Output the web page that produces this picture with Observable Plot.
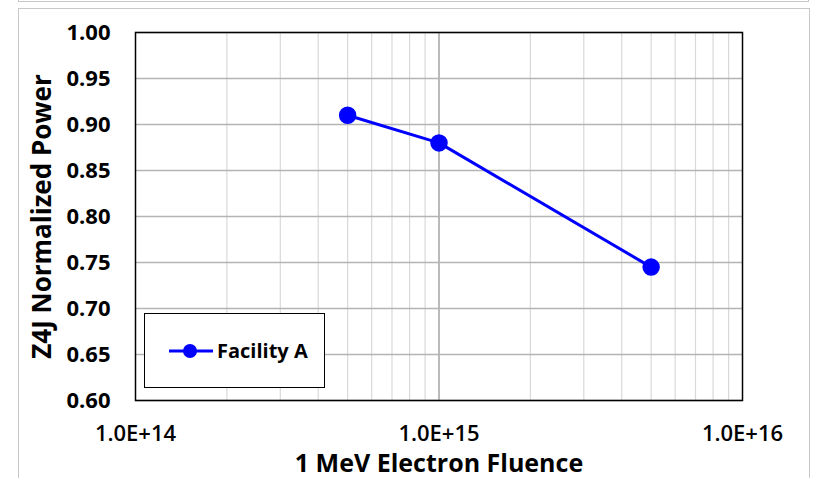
<!DOCTYPE html>
<html>
<head>
<meta charset="utf-8">
<script src="https://cdn.jsdelivr.net/npm/d3@7"></script>
<script src="https://cdn.jsdelivr.net/npm/@observablehq/plot@0.6"></script>
<style>
  html, body { margin: 0; padding: 0; background: #fff; overflow: hidden; }
  #wrap { position: relative; width: 815px; height: 478px; font-family: "Open Sans", sans-serif; }
  .border-top { position: absolute; left: 18px; top: -10px; width: 791px; height: 12px; border: 1px solid #c8c8c8; box-sizing: border-box; }
  .border-main { position: absolute; left: 18px; top: 8px; width: 792px; height: 480px; border: 1px solid #c8c8c8; box-sizing: border-box; }
  #chart { position: absolute; left: 0; top: 0; }
  #legend { position: absolute; left: 144px; top: 313px; width: 181px; height: 75px; box-sizing: border-box;
            border: 1.5px solid #000; background: #fff; display: flex; align-items: center; padding-left: 22px; }
  #legend span { font-weight: bold; font-size: 20px; color: #000; margin-left: 2px; line-height: 1; }
</style>
</head>
<body>
<div id="wrap">
  <div class="border-top"></div>
  <div class="border-main"></div>
  <div id="chart"></div>
  <div id="legend"></div>
</div>
<script>
const seriesName = "Facility A";
const fluence = [5e14, 1e15, 5e15];
const power = [0.91, 0.88, 0.745];
const xTicks = [1e14, 1e15, 1e16];
const xTickLabels = ["1.0E+14", "1.0E+15", "1.0E+16"];
const yTicks = [0.60, 0.65, 0.70, 0.75, 0.80, 0.85, 0.90, 0.95, 1.00];
const xTitle = "1 MeV Electron Fluence";
const yTitle = "Z4J Normalized Power";

const data = fluence.map((f, i) => ({fluence: f, power: power[i]}));
const minorTicks = d3.scaleLog().domain([xTicks[0], xTicks[xTicks.length - 1]]).ticks()
  .filter(t => !xTicks.includes(t));
const blue = "#0000ff";
const xLabelOf = d => xTickLabels[xTicks.findIndex(t => Math.abs(t - d) / t < 1e-9)];

const plot = Plot.plot({
  width: 815,
  height: 478,
  marginLeft: 135,
  marginRight: 73,
  marginTop: 32,
  marginBottom: 78,
  style: {fontFamily: "Open Sans, sans-serif", background: "transparent", overflow: "visible"},
  x: {type: "log", domain: [1e14, 1e16], axis: null},
  y: {domain: [0.6, 1.0]},
  marks: [
    Plot.gridX(minorTicks, {stroke: "#d9d9d9", strokeOpacity: 1, strokeWidth: 1.2}),
    Plot.gridX([1e15], {stroke: "#8c8c8c", strokeOpacity: 1, strokeWidth: 1.2}),
    Plot.gridY(yTicks, {stroke: "#b4b4b4", strokeOpacity: 1, strokeWidth: 1.5}),
    Plot.frame({stroke: "#000", strokeWidth: 1.5}),
    Plot.axisY(yTicks, {tickSize: 0, tickPadding: 25, tickFormat: d3.format(".2f"),
      fontSize: 22, fontWeight: "bold", fill: "#000", label: null}),
    Plot.text(xTicks, {x: d => d, frameAnchor: "bottom", lineAnchor: "middle", dy: 33, text: xLabelOf,
      fontSize: 22, fontWeight: 600, fill: "#000"}),
    Plot.text([xTitle], {frameAnchor: "bottom", lineAnchor: "middle", dy: 63, fontSize: 25, fontWeight: "bold", fill: "#000"}),
    Plot.text([yTitle], {frameAnchor: "left", textAnchor: "middle", lineAnchor: "middle", dx: -93, rotate: -90,
      fontSize: 26, fontWeight: "bold", fill: "#000"}),
    Plot.line(data, {x: "fluence", y: "power", stroke: blue, strokeWidth: 3}),
    Plot.dot(data, {x: "fluence", y: "power", r: 8, fill: blue, stroke: blue})
  ]
});
document.getElementById("chart").appendChild(plot);

const leg = document.getElementById("legend");
leg.innerHTML = `<svg width="48" height="20" style="display:block"><line x1="2" y1="10" x2="46" y2="10" stroke="${blue}" stroke-width="3"/><circle cx="23" cy="10" r="7" fill="${blue}"/></svg><span>${seriesName}</span>`;
</script>
</body>
</html>
